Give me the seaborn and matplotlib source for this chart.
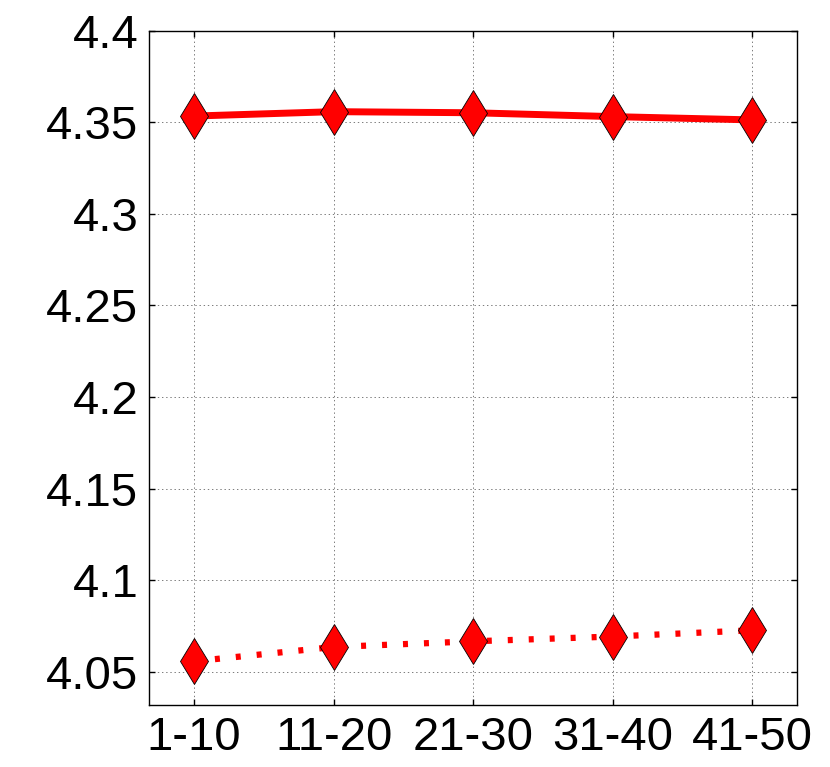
import numpy as np
import pandas as pd
import matplotlib
matplotlib.use("Agg")
import matplotlib.pyplot as plt
import seaborn as sns

groups = ["1-10", "11-20", "21-30", "31-40", "41-50"]
solid_vals = [4.3534, 4.3558, 4.3552, 4.3531, 4.3513]
dotted_vals = [4.0558, 4.0636, 4.0667, 4.0693, 4.0727]
yticks = [4.05, 4.1, 4.15, 4.2, 4.25, 4.3, 4.35, 4.4]
ytick_labels = ["4.05", "4.1", "4.15", "4.2", "4.25", "4.3", "4.35", "4.4"]

sns.set_style("white")
plt.rcParams['font.family'] = ['Liberation Sans', 'DejaVu Sans']
plt.rcParams['lines.scale_dashes'] = False

df = pd.DataFrame({"group": groups, "solid": solid_vals, "dotted": dotted_vals})

fig = plt.figure(figsize=(8.3, 7.67), dpi=100)
ax = fig.add_axes([0.18, 0.081, 0.78, 0.879])

sns.lineplot(data=df, x="group", y="solid", ax=ax, color="red", lw=5,
             marker="d", markersize=23, markerfacecolor="red",
             markeredgecolor="black", markeredgewidth=0.6, sort=False)
sns.lineplot(data=df, x="group", y="dotted", ax=ax, color="red", lw=4.5,
             linestyle=(0, (3.6, 11.5)), marker="d", markersize=23,
             markerfacecolor="red", markeredgecolor="black",
             markeredgewidth=0.6, sort=False)

ax.set_xlim(-0.32, 4.32)
ax.set_ylim(4.032, 4.4)
ax.set_yticks(yticks)
ax.set_yticklabels(ytick_labels)
ax.set_xlabel("")
ax.set_ylabel("")
ax.grid(True, color="k", linestyle=(0, (1, 2)), lw=0.6, alpha=0.6)
ax.set_axisbelow(True)
ax.tick_params(axis="both", labelsize=34, labelcolor="black", colors="black",
               direction="in", length=4, width=1, top=True, right=True,
               left=True, bottom=True, pad=8)
for s in ax.spines.values():
    s.set_color("black")
    s.set_linewidth(1)

fig.savefig("out.png", dpi=100)
